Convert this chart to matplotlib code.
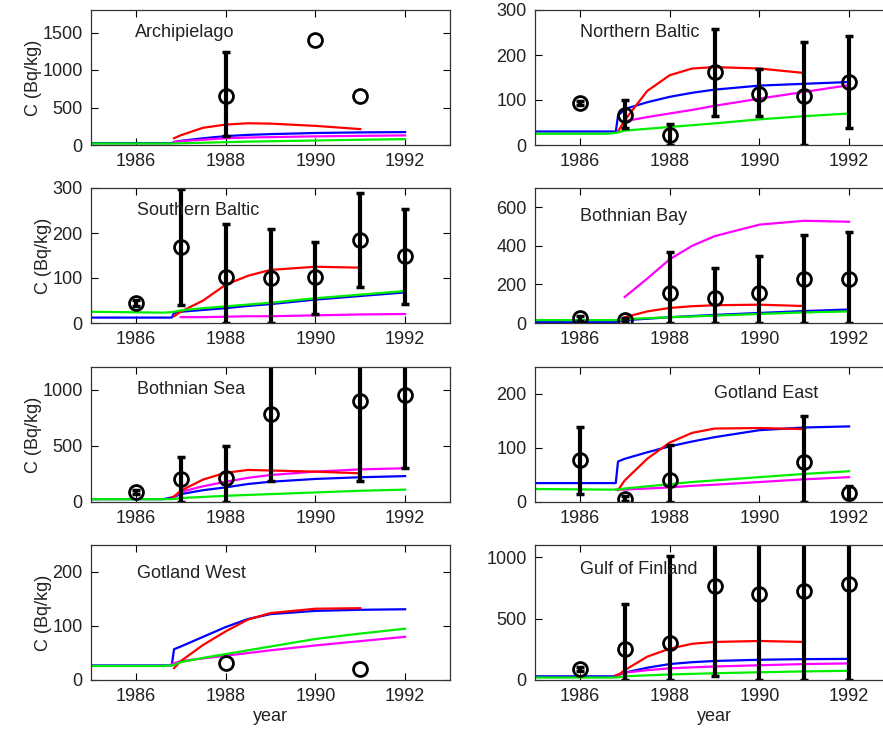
import numpy as np
import matplotlib
matplotlib.use("Agg")
import matplotlib.pyplot as plt

nan = np.nan

# model time grid (years)
t = [1985, 1986.6, 1986.8, 1986.85, 1987, 1987.5, 1988, 1988.5, 1989, 1990, 1991, 1992]

regions = ["Archipielago", "Northern Baltic", "Southern Baltic", "Bothnian Bay",
           "Bothnian Sea", "Gotland East", "Gotland West", "Gulf of Finland"]

# model curves, one list per region (Bq/kg)
blue = {
    "Archipielago":    [25, 25, 25, 40, 55, 90, 118, 135, 145, 160, 168, 172],
    "Northern Baltic": [30, 30, 30, 65, 80, 95, 107, 116, 123, 132, 136, 140],
    "Southern Baltic": [12, 12, 12, 22, 25, 29, 33, 38, 42, 52, 60, 68],
    "Bothnian Bay":    [5, 5, 5, 10, 15, 22, 30, 36, 42, 52, 62, 70],
    "Bothnian Sea":    [25, 25, 40, 45, 70, 105, 130, 160, 180, 205, 220, 230],
    "Gotland East":    [35, 35, 35, 75, 80, 92, 103, 112, 120, 133, 138, 140],
    "Gotland West":    [27, 27, 27, 57, 62, 80, 98, 113, 122, 128, 130, 131],
    "Gulf of Finland": [30, 30, 30, 40, 60, 100, 130, 145, 155, 165, 170, 172],
}
magenta = {
    "Archipielago":    [nan, nan, nan, 40, 50, 70, 90, 100, 105, 115, 122, 128],
    "Northern Baltic": [nan, nan, nan, nan, 53, 62, 70, 78, 87, 103, 118, 133],
    "Southern Baltic": [nan, nan, nan, nan, 13, 13, 14, 15, 15, 17, 19, 20],
    "Bothnian Bay":    [nan, nan, nan, nan, 135, 230, 330, 400, 450, 510, 530, 525],
    "Bothnian Sea":    [nan, nan, 40, 45, 90, 140, 180, 215, 240, 270, 290, 300],
    "Gotland East":    [nan, nan, 23, 23, 23, 25, 27, 30, 32, 37, 42, 46],
    "Gotland West":    [nan, nan, 30, 31, 35, 40, 45, 50, 55, 64, 72, 80],
    "Gulf of Finland": [nan, nan, 40, 45, 60, 80, 95, 103, 110, 120, 130, 135],
}
red = {
    "Archipielago":    [nan, nan, nan, 90, 130, 230, 272, 290, 285, 255, 212, nan],
    "Northern Baltic": [nan, nan, nan, 30, 55, 120, 155, 170, 173, 170, 160, nan],
    "Southern Baltic": [nan, nan, nan, 15, 25, 50, 85, 105, 118, 125, 123, nan],
    "Bothnian Bay":    [nan, nan, nan, nan, 30, 60, 78, 87, 92, 95, 88, nan],
    "Bothnian Sea":    [nan, nan, 40, 50, 100, 200, 260, 285, 280, 270, 255, nan],
    "Gotland East":    [nan, nan, nan, 22, 40, 80, 110, 128, 136, 137, 135, nan],
    "Gotland West":    [nan, nan, nan, 22, 35, 65, 90, 112, 124, 132, 133, nan],
    "Gulf of Finland": [nan, nan, 35, 40, 80, 190, 255, 295, 310, 318, 310, nan],
}
green = {
    "Archipielago":    [20, 20, 20, 21, 23, 30, 38, 45, 50, 60, 70, 78],
    "Northern Baltic": [25, 25, 27, 28, 32, 36, 40, 44, 48, 57, 64, 70],
    "Southern Baltic": [25, 23, 24, 25, 28, 33, 37, 41, 45, 55, 63, 71],
    "Bothnian Bay":    [15, 15, 15, 16, 20, 25, 30, 34, 38, 47, 55, 60],
    "Bothnian Sea":    [25, 25, 25, 27, 35, 45, 55, 63, 70, 85, 100, 110],
    "Gotland East":    [24, 23, 23, 23, 25, 29, 33, 37, 40, 46, 52, 57],
    "Gotland West":    [26, 26, 27, 28, 33, 41, 48, 55, 62, 76, 86, 95],
    "Gulf of Finland": [20, 20, 20, 22, 30, 38, 45, 50, 55, 63, 70, 75],
}

# measurements: year, value, lower and upper bound (nan = no bar)
obs_year = {
    "Archipielago":    [1988, 1990, 1991],
    "Northern Baltic": [1986, 1987, 1988, 1989, 1990, 1991, 1992],
    "Southern Baltic": [1986, 1987, 1988, 1989, 1990, 1991, 1992],
    "Bothnian Bay":    [1986, 1987, 1988, 1989, 1990, 1991, 1992],
    "Bothnian Sea":    [1986, 1987, 1988, 1989, 1991, 1992],
    "Gotland East":    [1986, 1987, 1988, 1991, 1992],
    "Gotland West":    [1988, 1991],
    "Gulf of Finland": [1986, 1987, 1988, 1989, 1990, 1991, 1992],
}
obs_val = {
    "Archipielago":    [660, 1400, 650],
    "Northern Baltic": [93, 67, 23, 163, 113, 110, 141],
    "Southern Baltic": [45, 170, 103, 100, 102, 185, 148],
    "Bothnian Bay":    [24, 14, 154, 128, 154, 229, 229],
    "Bothnian Sea":    [89, 202, 210, 780, 900, 950],
    "Gotland East":    [77, 6, 40, 74, 17],
    "Gotland West":    [31, 20],
    "Gulf of Finland": [87, 251, 300, 763, 703, 722, 785],
}
obs_lo = {
    "Archipielago":    [115, nan, nan],
    "Northern Baltic": [88, 38, 0, 64, 64, 0, 38],
    "Southern Baltic": [38, 40, 0, 0, 21, 79, 43],
    "Bothnian Bay":    [12, 4, 0, 0, 0, 0, 0],
    "Bothnian Sea":    [70, 0, 0, 190, 185, 305],
    "Gotland East":    [15, 2, 0, 0, 5],
    "Gotland West":    [nan, nan],
    "Gulf of Finland": [70, 0, 0, 33, 0, 0, 0],
}
obs_hi = {
    "Archipielago":    [1235, nan, nan],
    "Northern Baltic": [98, 100, 47, 258, 168, 230, 243],
    "Southern Baltic": [52, 298, 219, 210, 180, 290, 254],
    "Bothnian Bay":    [36, 24, 367, 285, 350, 455, 474],
    "Bothnian Sea":    [105, 400, 500, 1500, 1700, 1600],
    "Gotland East":    [139, 11, 105, 159, 29],
    "Gotland West":    [nan, nan],
    "Gulf of Finland": [105, 619, 1008, 1500, 1500, 1500, 1500],
}

ylims = [1800, 300, 300, 700, 1200, 250, 250, 1100]
yticks = [[0, 500, 1000, 1500], [0, 100, 200, 300], [0, 100, 200, 300],
          [0, 200, 400, 600], [0, 500, 1000], [0, 100, 200], [0, 100, 200],
          [0, 500, 1000]]
label_pos = [(0.123, 0.83), (0.125, 0.83), (0.128, 0.83), (0.125, 0.79),
             (0.128, 0.83), (0.50, 0.80), (0.128, 0.79), (0.125, 0.815)]

plt.rcParams['font.family'] = ['Liberation Sans', 'DejaVu Sans']
plt.rcParams['font.size'] = 13
txt = '#222222'

fig = plt.figure(figsize=(8.83, 7.31), dpi=100)
W = 359 / 883
H = 135 / 731
lefts = [91 / 883, 535 / 883]
bottoms = [1 - 145 / 731, 1 - 323 / 731, 1 - 502 / 731, 1 - 680 / 731]

for i, reg in enumerate(regions):
    row, col = divmod(i, 2)
    ax = fig.add_axes([lefts[col], bottoms[row], W, H])

    ax.plot(t, blue[reg], color='#0000ff', lw=1.6)
    ax.plot(t, magenta[reg], color='#ff00ff', lw=1.6)
    ax.plot(t, red[reg], color='#ff0000', lw=1.6)
    ax.plot(t, green[reg], color='#00ee00', lw=1.6)

    yr = np.array(obs_year[reg], float)
    v = np.array(obs_val[reg], float)
    lo = np.array(obs_lo[reg], float)
    hi = np.array(obs_hi[reg], float)
    m = ~np.isnan(lo)
    if m.any():
        ax.errorbar(yr[m], v[m], yerr=[v[m] - lo[m], hi[m] - v[m]], fmt='none',
                    ecolor='black', elinewidth=3, capsize=3, capthick=2.5)
    ax.plot(yr, v, 'o', ms=10, mfc='none', mec='black', mew=2)

    ax.text(label_pos[i][0], label_pos[i][1], reg, transform=ax.transAxes,
            ha='left', va='center', fontsize=13, color=txt)

    ax.set_xlim(1985, 1993)
    ax.set_ylim(0, ylims[i])
    ax.set_xticks([1986, 1988, 1990, 1992])
    ax.set_yticks(yticks[i])
    ax.tick_params(direction='in', top=True, right=True, length=5, width=0.8,
                   labelsize=13, labelcolor=txt, pad=6)
    for s in ax.spines.values():
        s.set_linewidth(0.9)
        s.set_color('#333333')
    if col == 0:
        ax.set_ylabel('C (Bq/kg)', color=txt, fontsize=13, labelpad=0)
    if row == 3:
        ax.set_xlabel('year', color=txt, fontsize=13, labelpad=2)

fig.savefig('out.png', dpi=100)
